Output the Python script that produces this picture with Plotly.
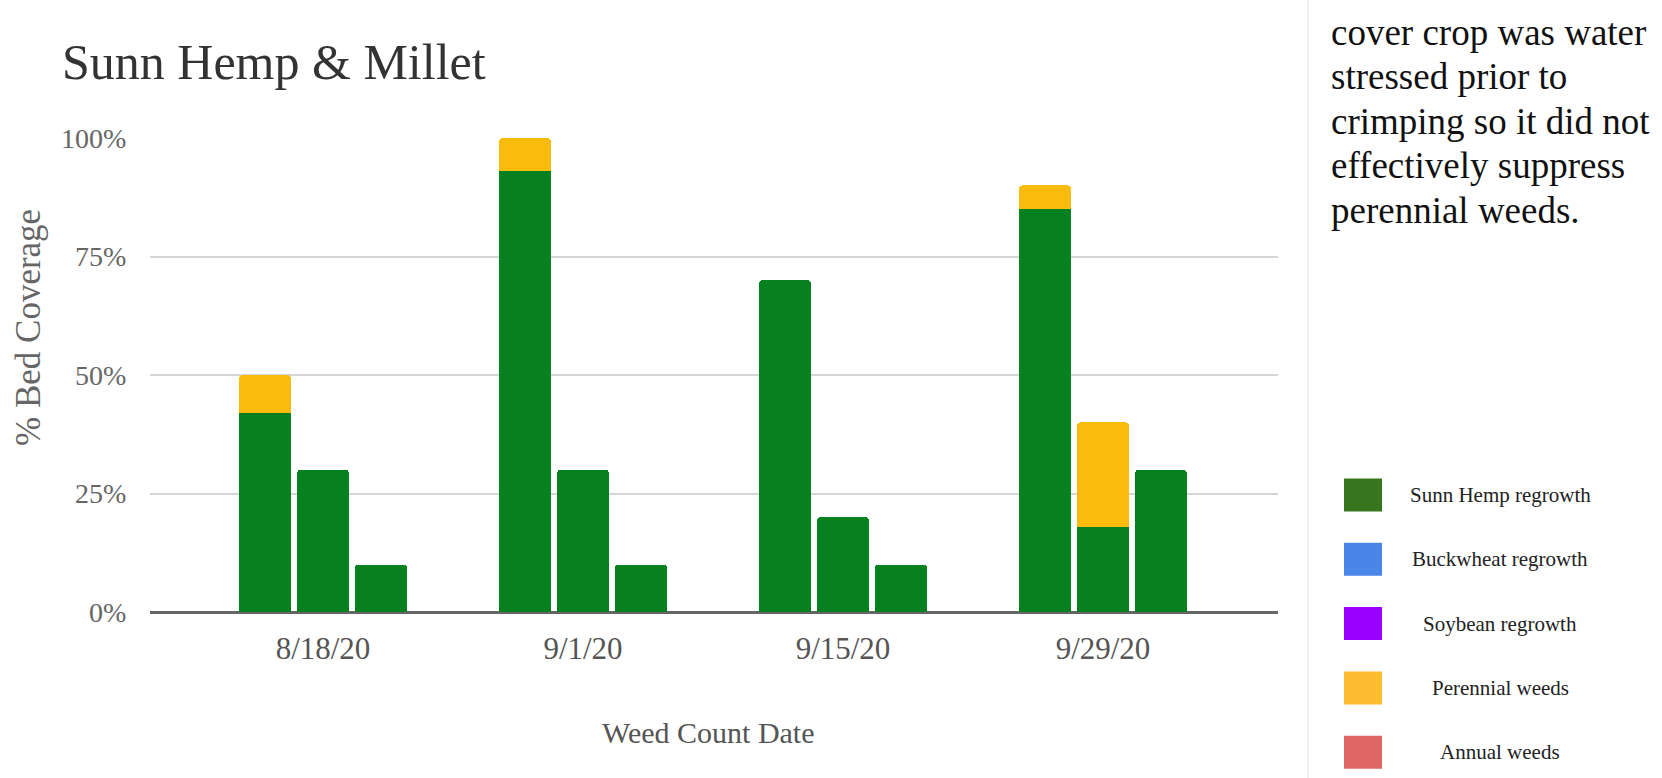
import plotly.graph_objects as go

# Canvas and plot-area geometry (pixels)
W, H = 1662, 778
L, R, T, B = 150, 384, 138, 166
PW, PH = W - L - R, H - T - B


def px_x(px):
    return (px - L) / PW


def px_y(py):
    return (H - B - py) / PH


SERIF = "Liberation Serif, Times New Roman, serif"

# ---- data -------------------------------------------------------------
dates = ["8/18/20", "9/1/20", "9/15/20", "9/29/20"]

# three beds per count date, % of bed covered
sunn_hemp_regrowth = [[42, 30, 10], [93, 30, 10], [70, 20, 10], [85, 18, 30]]
buckwheat_regrowth = [[0, 0, 0], [0, 0, 0], [0, 0, 0], [0, 0, 0]]
soybean_regrowth = [[0, 0, 0], [0, 0, 0], [0, 0, 0], [0, 0, 0]]
perennial_weeds = [[8, 0, 0], [7, 0, 0], [0, 0, 0], [5, 22, 0]]
annual_weeds = [[0, 0, 0], [0, 0, 0], [0, 0, 0], [0, 0, 0]]

series_names = ["Sunn Hemp regrowth", "Buckwheat regrowth", "Soybean regrowth",
                "Perennial weeds", "Annual weeds"]
series_values = [sunn_hemp_regrowth, buckwheat_regrowth, soybean_regrowth,
                 perennial_weeds, annual_weeds]
bar_colors = ["#07801f", "#4a86e8", "#9900ff", "#f9bc0c", "#e06666"]
swatch_colors = ["#38761d", "#4a86e8", "#9900ff", "#fbbc2f", "#e06666"]

y_ticks = [0, 25, 50, 75, 100]
y_tick_text = ["0%", "25%", "50%", "75%", "100%"]

note_lines = ["cover crop was water", "stressed prior to", "crimping so it did not",
              "effectively suppress", "perennial weeds."]

# ---- bars ---------------------------------------------------------------
bed_offsets = [-0.223, 0.0, 0.223]
bar_width = 0.2

fig = go.Figure()
for name, vals, color in zip(series_names, series_values, bar_colors):
    xs, ys = [], []
    for i, per_date in enumerate(vals):
        for off, v in zip(bed_offsets, per_date):
            xs.append(i + off)
            ys.append(v)
    fig.add_trace(go.Bar(x=xs, y=ys, width=bar_width, name=name,
                         marker=dict(color=color, line=dict(width=0)),
                         showlegend=False))

fig.update_layout(
    width=W, height=H,
    margin=dict(l=L, r=R, t=T, b=B, pad=0),
    barmode="stack",
    barcornerradius=4,
    paper_bgcolor="white",
    plot_bgcolor="white",
    showlegend=False,
    font=dict(family=SERIF),
)

# group centres sit 260 px apart, first one at x = 323 px
fig.update_xaxes(
    range=[(150 - 323) / 260, (1278 - 323) / 260],
    tickvals=list(range(len(dates))), ticktext=dates,
    showgrid=False, zeroline=False, showline=False,
    ticks="outside", ticklen=9, tickcolor="rgba(0,0,0,0)",
    tickfont=dict(family=SERIF, size=31, color="#555555"),
)
fig.update_yaxes(
    range=[0, 100],
    tickvals=y_ticks, ticktext=y_tick_text,
    showgrid=True, gridcolor="#d5d5d5", gridwidth=2,
    zeroline=True, zerolinecolor="#666666", zerolinewidth=3,
    showline=False,
    ticks="outside", ticklen=17, tickcolor="rgba(0,0,0,0)",
    tickfont=dict(family=SERIF, size=28, color="#666666"),
)

ann = []
# chart title
ann.append(dict(text="Sunn Hemp &amp; Millet", x=px_x(60), y=px_y(62),
                xanchor="left", yanchor="middle",
                font=dict(family=SERIF, size=50, color="#333333")))
# axis titles
ann.append(dict(text="% Bed Coverage", x=px_x(28), y=px_y(328), textangle=-90,
                xanchor="center", yanchor="middle",
                font=dict(family=SERIF, size=35, color="#666666")))
ann.append(dict(text="Weed Count Date", x=px_x(708), y=px_y(732),
                xanchor="center", yanchor="middle",
                font=dict(family=SERIF, size=30, color="#555555")))

# side note
note_size = 37
for k, line in enumerate(note_lines):
    baseline = 45 + 44.5 * k
    ann.append(dict(text=line, x=px_x(1329), y=px_y(baseline - 0.34 * note_size),
                    xanchor="left", yanchor="middle",
                    font=dict(family=SERIF, size=note_size, color="#111111")))

# legend: swatches + centred labels
shapes = []
for k, (name, col) in enumerate(zip(series_names, swatch_colors)):
    cy = 495 + 64.3 * k
    shapes.append(dict(type="rect", xref="paper", yref="paper",
                       x0=px_x(1344), x1=px_x(1382),
                       y0=px_y(cy + 16.5), y1=px_y(cy - 16.5),
                       fillcolor=col, line=dict(width=0)))
    ann.append(dict(text=name, x=px_x(1500), y=px_y(cy),
                    xanchor="center", yanchor="middle",
                    font=dict(family=SERIF, size=21, color="#222222")))

# light divider between chart and note column
shapes.append(dict(type="line", xref="paper", yref="paper",
                   x0=px_x(1308), x1=px_x(1308), y0=px_y(H), y1=px_y(0),
                   line=dict(color="#efefef", width=2)))

for a in ann:
    a.update(xref="paper", yref="paper", showarrow=False)

fig.update_layout(annotations=ann, shapes=shapes)

fig.write_html("out.html")
